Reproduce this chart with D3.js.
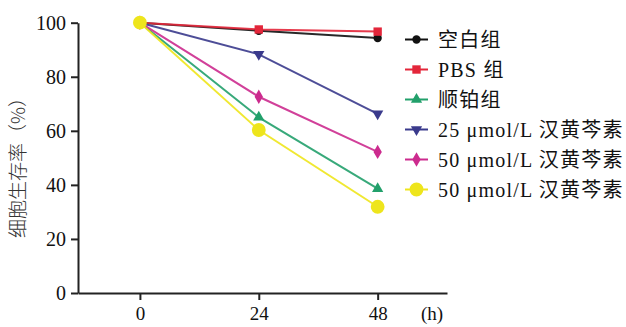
<!DOCTYPE html>
<html>
<head>
<meta charset="utf-8">
<script src="https://cdn.jsdelivr.net/npm/d3@7"></script>
<style>
body{margin:0;background:#fff}
</style>
</head>
<body>
<div id="chart"></div>
<script>
var svgWidth=626
var svgHeight=327
var serif="'Liberation Serif', 'Noto Sans CJK SC', serif"

// data
var hours=[0,24,48]
var groups=["空白组","PBS 组","顺铂组","25 μmol/L 汉黄芩素","50 μmol/L 汉黄芩素","50 μmol/L 汉黄芩素"]
var blank=[100,97,94.3]
var pbs=[100,97.5,96.7]
var cisplatin=[100,65,38.6]
var wog25=[100,88.3,66.3]
var wog50=[100,72.6,52.2]
var wog50b=[100,60.3,31.9]
var yTicks=[0,20,40,60,80,100]

var seriesValues=[blank,pbs,cisplatin,wog25,wog50,wog50b]
var colors=["#111111","#e3263a","#22a06b","#3a3a8c","#cc2b8e","#eee51c"]
var shapes=[d3.symbolCircle,d3.symbolSquare,d3.symbolTriangle,d3.symbolTriangle,d3.symbolDiamond,d3.symbolCircle]
var sizes=[55,70,55,55,60,150]
var rotate=[0,0,0,180,0,0]

var svg=d3.select("#chart").append("svg")
    .attr("width",svgWidth)
    .attr("height",svgHeight)

var x=d3.scaleLinear().domain([-12.5,62]).range([78,447])
var y=d3.scaleLinear().domain([0,100]).range([293,22.7])

// axes
var xAxis=svg.append("g").attr("transform","translate(0,293)")
    .call(d3.axisBottom(x).tickValues(hours).tickSize(7).tickSizeOuter(0).tickPadding(7))
var yAxis=svg.append("g").attr("transform","translate(78,0)")
    .call(d3.axisLeft(y).tickValues(yTicks).tickSize(7).tickSizeOuter(0).tickPadding(5))
svg.selectAll("g").attr("font-family",serif)
svg.selectAll(".domain").attr("stroke","#222").attr("stroke-width",2)
svg.selectAll(".tick line").attr("stroke","#222").attr("stroke-width",2)
svg.selectAll(".tick text").attr("font-size",20).attr("fill","#111")
    .style("font-family",serif)
xAxis.selectAll(".tick text").attr("font-size",19)

svg.append("text").attr("x",421).attr("y",320).attr("font-size",19)
    .style("font-family",serif).attr("fill","#111").text("(h)")

svg.append("text")
    .attr("transform","translate(25,163) rotate(-90)")
    .attr("text-anchor","middle")
    .attr("font-size",19)
    .attr("fill","#333")
    .style("font-family","'Noto Sans CJK SC',sans-serif")
    .style("font-weight",300)
    .text("细胞生存率（%）")

var line=d3.line().x((d,i)=>x(hours[i])).y(d=>y(d))

seriesValues.forEach(function(vals,k){
    svg.append("path").datum(vals)
        .attr("d",line)
        .attr("fill","none")
        .attr("stroke",colors[k])
        .attr("stroke-width",2)
        .attr("opacity",0.9)
})
seriesValues.forEach(function(vals,k){
    svg.selectAll(null).data(vals).enter().append("path")
        .attr("d",d3.symbol().type(shapes[k]).size(sizes[k]))
        .attr("transform",(d,i)=>`translate(${x(hours[i])},${y(d)}) rotate(${rotate[k]})`)
        .attr("fill",colors[k])
})

// legend
var legend=svg.append("g")
groups.forEach(function(g,k){
    var ly=39.5+k*30
    legend.append("line").attr("x1",405).attr("x2",428).attr("y1",ly).attr("y2",ly)
        .attr("stroke",colors[k]).attr("stroke-width",2)
    legend.append("path")
        .attr("d",d3.symbol().type(shapes[k]).size(sizes[k]))
        .attr("transform",`translate(416.5,${ly}) rotate(${rotate[k]})`)
        .attr("fill",colors[k])
    legend.append("text").attr("x",438).attr("y",ly+7).attr("font-size",20)
        .attr("letter-spacing",1.2)
        .style("font-family",serif).attr("fill","#111").text(g)
})
</script>
</body>
</html>
